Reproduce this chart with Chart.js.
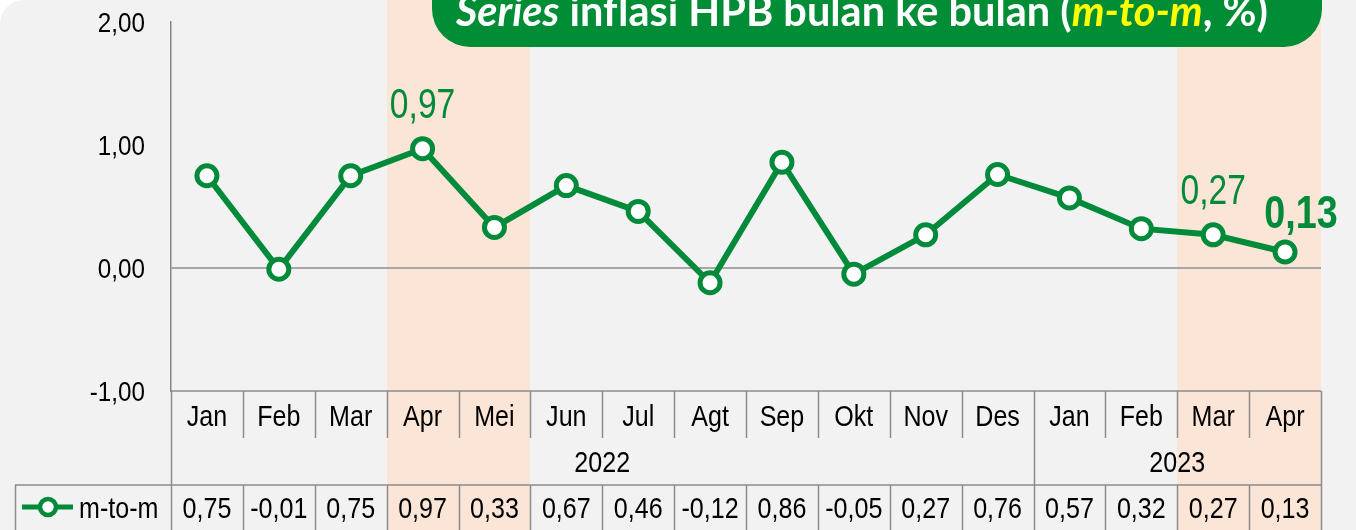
<!DOCTYPE html>
<html>
<head>
<meta charset="utf-8">
<script src="https://cdn.jsdelivr.net/npm/chart.js@4"></script>
<style>
  html, body { margin: 0; padding: 0; background: #fff; }
  #wrap { width: 1356px; height: 530px; }
</style>
</head>
<body>
<div id="wrap"><canvas id="myChart" width="1356" height="530"></canvas></div>
<script>
// data
var months = ['Jan', 'Feb', 'Mar', 'Apr', 'Mei', 'Jun', 'Jul', 'Agt', 'Sep', 'Okt', 'Nov', 'Des', 'Jan', 'Feb', 'Mar', 'Apr'];
var values = [0.75, -0.01, 0.75, 0.97, 0.33, 0.67, 0.46, -0.12, 0.86, -0.05, 0.27, 0.76, 0.57, 0.32, 0.27, 0.13];
var years = ['2022', '2023'];
var yearSpans = [12, 4];
var yTicks = [-1, 0, 1, 2];
var seriesName = 'm-to-m';
var highlight = [3, 4, 14, 15];
var labelIdx = [3, 14, 15];

var sans = "'Liberation Sans', Arial, sans-serif";
var green = '#008a3a';
var peach = '#fbe5d6';
var gridGray = '#8c8c8c';

function fmt(v) {
  return v.toFixed(2).replace('.', ',');
}

// no narrow font installed, so squeeze Liberation Sans sideways
function narrowText(ctx, str, x, y, align, font, sx) {
  ctx.save();
  ctx.font = font;
  ctx.textAlign = align;
  ctx.textBaseline = 'alphabetic';
  ctx.translate(x, y);
  ctx.scale(sx || 0.85, 1);
  ctx.fillText(str, 0, 0);
  ctx.restore();
}

var tablePlugin = {
  id: 'tablePlugin',
  beforeDraw: function(chart) {
    var ctx = chart.ctx;
    var area = chart.chartArea;
    var colW = (area.right - area.left) / months.length;
    ctx.save();
    ctx.fillStyle = '#f2f2f2';
    ctx.beginPath();
    ctx.roundRect(0, 0, chart.width, chart.height + 40, [24, 0, 0, 0]);
    ctx.fill();
    ctx.fillStyle = peach;
    highlight.forEach(function(i) {
      var x0 = Math.round(area.left + i * colW);
      var x1 = Math.round(area.left + (i + 1) * colW);
      ctx.fillRect(x0, 0, x1 - x0, chart.height);
    });
    ctx.restore();
  },
  afterDatasetsDraw: function(chart) {
    var ctx = chart.ctx;
    var pts = chart.getDatasetMeta(0).data;
    var y = chart.scales.y;
    ctx.save();
    ctx.fillStyle = '#000';
    yTicks.forEach(function(t) {
      narrowText(ctx, fmt(t), 145, y.getPixelForValue(t) + 10, 'right', '28.5px ' + sans);
    });
    ctx.fillStyle = green;
    labelIdx.forEach(function(i, n) {
      var p = pts[i];
      if (n === labelIdx.length - 1) {
        narrowText(ctx, fmt(values[i]), p.x + 16, p.y - 24, 'center', 'bold 46px ' + sans, 0.82);
      } else {
        narrowText(ctx, fmt(values[i]), p.x, p.y - 31, 'center', '42px ' + sans, 0.8);
      }
    });
    ctx.restore();
  },
  afterDraw: function(chart) {
    var ctx = chart.ctx;
    var area = chart.chartArea;
    var left = area.left, right = area.right, top = area.bottom;
    var colW = (right - left) / months.length;
    var rowCat = top + 47, rowYear = 485, bottom = chart.height;
    var i, x;

    ctx.save();
    ctx.strokeStyle = gridGray;
    ctx.lineWidth = 1.5;
    ctx.beginPath();
    ctx.moveTo(left, top); ctx.lineTo(right, top);
    ctx.moveTo(15, rowYear); ctx.lineTo(right, rowYear);
    for (i = 0; i <= months.length; i++) {
      x = Math.round(left + i * colW) + 0.5;
      ctx.moveTo(x, top); ctx.lineTo(x, rowCat);
      ctx.moveTo(x, rowYear); ctx.lineTo(x, bottom);
    }
    ctx.moveTo(left + 0.5, top); ctx.lineTo(left + 0.5, bottom);
    ctx.moveTo(right + 0.5, top); ctx.lineTo(right + 0.5, bottom);
    var acc = 0;
    yearSpans.forEach(function(s) {
      acc += s;
      var xx = Math.round(left + acc * colW) + 0.5;
      ctx.moveTo(xx, rowCat); ctx.lineTo(xx, rowYear);
    });
    ctx.moveTo(15.5, rowYear); ctx.lineTo(15.5, bottom);
    ctx.stroke();

    ctx.fillStyle = '#000';
    var f = '29.5px ' + sans;
    months.forEach(function(m, k) {
      narrowText(ctx, m, left + (k + 0.5) * colW, top + 35, 'center', f);
    });
    acc = 0;
    years.forEach(function(yr, k) {
      var c = left + (acc + yearSpans[k] / 2) * colW;
      narrowText(ctx, yr, c, 472, 'center', f);
      acc += yearSpans[k];
    });
    values.forEach(function(v, k) {
      narrowText(ctx, fmt(v), left + (k + 0.5) * colW, 518, 'center', f);
    });

    // legend cell
    ctx.strokeStyle = green;
    ctx.lineWidth = 5;
    ctx.beginPath();
    ctx.moveTo(22, 507); ctx.lineTo(73, 507);
    ctx.stroke();
    ctx.beginPath();
    ctx.arc(48, 507, 8, 0, Math.PI * 2);
    ctx.fillStyle = '#fff';
    ctx.fill();
    ctx.lineWidth = 4.5;
    ctx.stroke();
    ctx.fillStyle = '#000';
    narrowText(ctx, seriesName, 79, 518, 'left', f);

    // title pill
    ctx.fillStyle = '#008d36';
    ctx.beginPath();
    ctx.roundRect(432, -40, 890, 87, 38);
    ctx.fill();
    var parts = [
      { t: 'Series', it: true, c: '#fff' },
      { t: ' inflasi HPB bulan ke bulan (', it: false, c: '#fff' },
      { t: 'm-to-m', it: true, c: '#ffff00' },
      { t: ', %)', it: false, c: '#fff' }
    ];
    var fam = "Lato, 'Open Sans', sans-serif";
    var size = 30;
    function fontOf(p, s) { return (p.it ? 'italic ' : '') + 'bold ' + s + 'px ' + fam; }
    var w = 0;
    ctx.textAlign = 'left';
    parts.forEach(function(p) { ctx.font = fontOf(p, size); w += ctx.measureText(p.t).width; });
    size = size * 812 / w;
    var tx = 456;
    parts.forEach(function(p) {
      ctx.font = fontOf(p, size);
      ctx.fillStyle = p.c;
      ctx.fillText(p.t, tx, 26);
      tx += ctx.measureText(p.t).width;
    });
    ctx.restore();
  }
};

var ctx = document.getElementById('myChart').getContext('2d');
var myChart = new Chart(ctx, {
  type: 'line',
  data: {
    labels: months,
    datasets: [{
      label: seriesName,
      data: values,
      borderColor: green,
      borderWidth: 6,
      pointRadius: 10,
      pointHoverRadius: 10,
      pointBorderWidth: 5,
      pointBackgroundColor: '#fff',
      pointBorderColor: green,
      tension: 0
    }]
  },
  options: {
    responsive: false,
    animation: false,
    events: [],
    layout: { padding: { left: 0, right: 35, top: 22, bottom: 139 } },
    plugins: {
      legend: { display: false },
      tooltip: { enabled: false }
    },
    scales: {
      x: {
        display: false,
        offset: true
      },
      y: {
        min: -1,
        max: 2,
        afterFit: function(scale) { scale.width = 171; },
        ticks: {
          stepSize: 1,
          display: false
        },
        grid: {
          drawTicks: false,
          lineWidth: 2,
          color: function(c) { return c.tick && c.tick.value === 0 ? '#a6a6a6' : 'rgba(0,0,0,0)'; }
        },
        border: { display: true, color: '#868686', width: 1.5 }
      }
    }
  },
  plugins: [tablePlugin]
});
</script>
</body>
</html>
